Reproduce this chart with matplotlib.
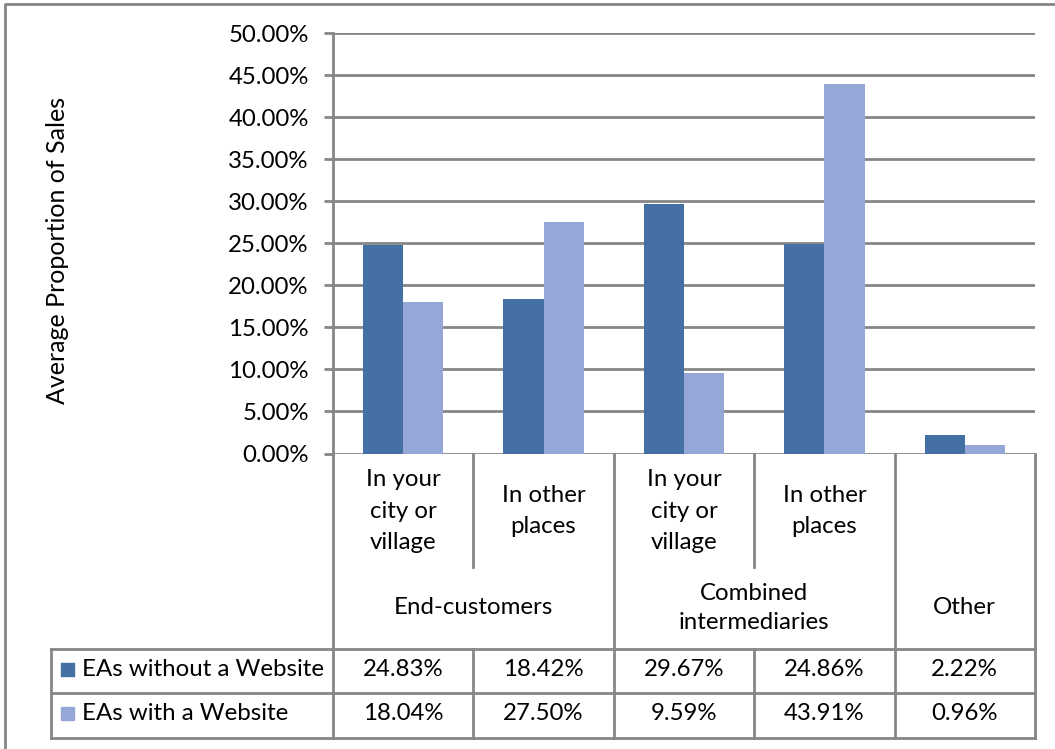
import numpy as np
import matplotlib
matplotlib.use("Agg")
import matplotlib.pyplot as plt

plt.rcParams['font.family'] = ['Lato', 'DejaVu Sans']

sub_labels = ["In your\ncity or\nvillage", "In other\nplaces", "In your\ncity or\nvillage", "In other\nplaces", ""]
group_labels = ["End-customers", "Combined\nintermediaries", "Other"]
group_spans = [2, 2, 1]
series_names = ["EAs without a Website", "EAs with a Website"]
no_website = [24.83, 18.42, 29.67, 24.86, 2.22]
with_website = [18.04, 27.50, 9.59, 43.91, 0.96]
series_colors = ["#4470a6", "#95a7d6"]

W, H = 1055, 749
fs = 17.3
fig = plt.figure(figsize=(W / 100, H / 100), dpi=100)

# plot area in pixels
left, right, top, bottom = 333, 1035, 33, 453.5
ax = fig.add_axes([left / W, 1 - bottom / H, (right - left) / W, (bottom - top) / H])

n = len(no_website)
x = np.arange(n)
bw = 1 / 3.5
ax.bar(x - bw / 2, np.array(no_website) / 100, bw, color=series_colors[0], zorder=3)
ax.bar(x + bw / 2, np.array(with_website) / 100, bw, color=series_colors[1], zorder=3)

ax.set_xlim(-0.5, n - 0.5)
ax.set_ylim(0, 0.5)
yt = np.arange(0, 0.501, 0.05)
ax.set_yticks(yt)
ax.set_yticklabels(["%.2f%%" % (v * 100) for v in yt], fontsize=fs)
ax.set_xticks([])
ax.grid(axis="y", color="#868686", linewidth=2, zorder=0)
ax.tick_params(axis="y", length=6.5, width=2, color="#868686", pad=11)
for s in ["top", "right", "bottom"]:
    ax.spines[s].set_visible(False)
ax.spines["left"].set_color("#868686")
ax.spines["left"].set_linewidth(2)

# overlay in pixel coordinates for the frame and the data table
ov = fig.add_axes([0, 0, 1, 1], zorder=5)
ov.set_xlim(0, W)
ov.set_ylim(H, 0)
ov.axis("off")
ov.patch.set_alpha(0)

lc = "#868686"
lw = 2
# outer chart frame
ov.plot([5, 5, W], [H, 4, 4], color=lc, linewidth=lw)

ov.text(58, 250, "Average Proportion of Sales", rotation=90,
        ha="center", va="center", fontsize=18)

colw = (right - left) / n
xs = [left + i * colw for i in range(n + 1)]
sub_bot, grp_bot, row1, row2 = 567, 649, 693, 738
leg_left = 51

# vertical lines of category rows
starts = np.cumsum([0] + group_spans)
for i, xv in enumerate(xs):
    if i in starts:
        ov.plot([xv, xv], [bottom, row2], color=lc, linewidth=lw)
    else:
        ov.plot([xv, xv], [bottom, sub_bot], color=lc, linewidth=lw)
        ov.plot([xv, xv], [grp_bot, row2], color=lc, linewidth=lw)
for yv in [grp_bot, row1, row2]:
    ov.plot([leg_left, right], [yv, yv], color=lc, linewidth=lw)
ov.plot([leg_left, leg_left], [grp_bot, row2], color=lc, linewidth=lw)

for i, lab in enumerate(sub_labels):
    ov.text((xs[i] + xs[i + 1]) / 2, 511, lab, ha="center", va="center",
            fontsize=fs, linespacing=1.62)
for g, lab in enumerate(group_labels):
    cx = (xs[starts[g]] + xs[starts[g + 1]]) / 2
    ov.text(cx, 608, lab, ha="center", va="center", fontsize=fs, linespacing=1.5)

rows = [no_website, with_website]
row_cy = [670, 714]
for r in range(2):
    ov.add_patch(plt.Rectangle((61, row_cy[r] - 7), 13, 13, color=series_colors[r]))
    ov.text(82, row_cy[r], series_names[r], ha="left", va="center", fontsize=fs)
    for i, v in enumerate(rows[r]):
        ov.text((xs[i] + xs[i + 1]) / 2, row_cy[r], "%.2f%%" % v,
                ha="center", va="center", fontsize=fs)

fig.savefig("out.png", dpi=100)
